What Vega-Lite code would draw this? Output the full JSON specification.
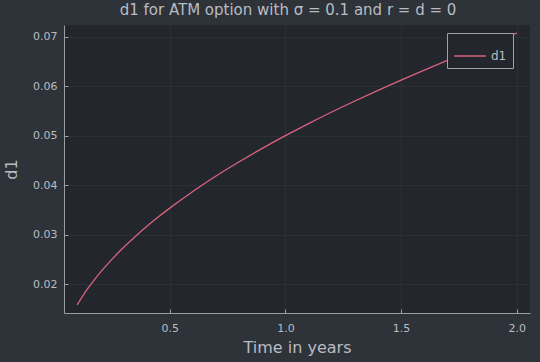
{
  "$schema": "https://vega.github.io/schema/vega-lite/v6.json",
  "width": 466,
  "height": 288,
  "autosize": {"type": "none"},
  "padding": {"left": 64, "top": 25, "right": 10, "bottom": 49},
  "background": "#2e3239",
  "title": {"text": "d1 for ATM option with σ = 0.1 and r = d = 0", "fontSize": 15, "font": "DejaVu Sans", "fontWeight": "normal", "color": "#b9bcc2", "offset": 7, "anchor": "middle", "dx": -9},
  "config": {
    "view": {"fill": "#23262c", "stroke": null},
    "font": "DejaVu Sans"
  },
  "data": {"values": [
    {"T": 0.1, "d1": 0.015811, "series": "d1"},
    {"T": 0.125, "d1": 0.017678, "series": "d1"},
    {"T": 0.15, "d1": 0.019365, "series": "d1"},
    {"T": 0.175, "d1": 0.020917, "series": "d1"},
    {"T": 0.2, "d1": 0.022361, "series": "d1"},
    {"T": 0.25, "d1": 0.025, "series": "d1"},
    {"T": 0.3, "d1": 0.027386, "series": "d1"},
    {"T": 0.35, "d1": 0.02958, "series": "d1"},
    {"T": 0.4, "d1": 0.031623, "series": "d1"},
    {"T": 0.45, "d1": 0.033541, "series": "d1"},
    {"T": 0.5, "d1": 0.035355, "series": "d1"},
    {"T": 0.6, "d1": 0.03873, "series": "d1"},
    {"T": 0.7, "d1": 0.041833, "series": "d1"},
    {"T": 0.8, "d1": 0.044721, "series": "d1"},
    {"T": 0.9, "d1": 0.047434, "series": "d1"},
    {"T": 1.0, "d1": 0.05, "series": "d1"},
    {"T": 1.1, "d1": 0.05244, "series": "d1"},
    {"T": 1.2, "d1": 0.054772, "series": "d1"},
    {"T": 1.3, "d1": 0.057009, "series": "d1"},
    {"T": 1.4, "d1": 0.059161, "series": "d1"},
    {"T": 1.5, "d1": 0.061237, "series": "d1"},
    {"T": 1.6, "d1": 0.063246, "series": "d1"},
    {"T": 1.7, "d1": 0.065192, "series": "d1"},
    {"T": 1.8, "d1": 0.067082, "series": "d1"},
    {"T": 1.9, "d1": 0.06892, "series": "d1"},
    {"T": 2.0, "d1": 0.070711, "series": "d1"}
  ]},
  "mark": {"type": "line", "strokeWidth": 1.3, "interpolate": "monotone"},
  "encoding": {
    "x": {
      "field": "T", "type": "quantitative",
      "scale": {"domain": [0.043, 2.057], "nice": false, "zero": false},
      "axis": {
        "title": "Time in years", "titleFontSize": 16, "titleFontWeight": "normal", "titleColor": "#b9bcc2", "titlePadding": 6,
        "values": [0.5, 1.0, 1.5, 2.0], "format": ".1f",
        "labelFontSize": 11, "labelColor": "#b9bcc2", "labelPadding": 13,
        "domainColor": "#9a9da3", "domainWidth": 1,
        "tickColor": "#9a9da3", "tickSize": -4,
        "grid": true, "gridColor": "#2c2f35", "gridWidth": 1
      }
    },
    "y": {
      "field": "d1", "type": "quantitative",
      "scale": {"domain": [0.01416, 0.07236], "nice": false, "zero": false},
      "axis": {
        "title": "d1", "titleFontSize": 16, "titleFontWeight": "normal", "titleColor": "#b9bcc2", "titlePadding": 13,
        "values": [0.02, 0.03, 0.04, 0.05, 0.06, 0.07], "format": ".2f",
        "labelFontSize": 11, "labelColor": "#b9bcc2", "labelPadding": 11,
        "domainColor": "#9a9da3", "domainWidth": 1,
        "tickColor": "#9a9da3", "tickSize": -4,
        "grid": true, "gridColor": "#2c2f35", "gridWidth": 1
      }
    },
    "color": {
      "field": "series", "type": "nominal",
      "scale": {"range": ["#d9637e"]},
      "legend": {
        "title": null, "orient": "none", "legendX": 383, "legendY": 8,
        "symbolType": "stroke", "symbolSize": 1000, "symbolStrokeWidth": 1.5,
        "labelFontSize": 12, "labelColor": "#b9bcc2",
        "strokeColor": "#a0a3a9", "fillColor": "#23262c", "padding": 6
      }
    }
  }
}
